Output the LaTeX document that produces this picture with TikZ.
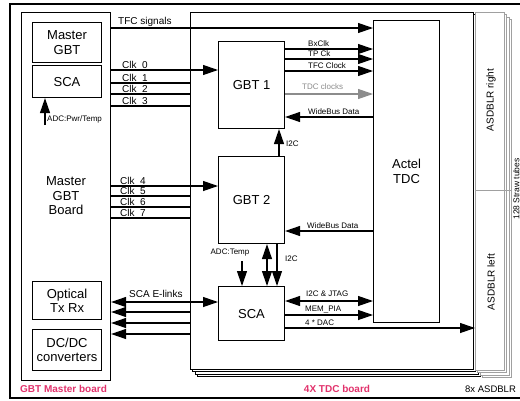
\documentclass[tikz,border=0pt]{standalone}
\usepackage{fontspec}
\setmainfont{Liberation Sans}
\usetikzlibrary{arrows.meta}
\definecolor{pinkl}{RGB}{226,50,108}
\definecolor{asdgray}{RGB}{160,160,160}
\definecolor{clkgray}{RGB}{140,140,140}
\begin{document}
\begin{tikzpicture}[x=1pt,y=-1pt,
  box/.style={draw, line width=1.1pt, fill=white, align=center, inner sep=0pt,
    font=\fontsize{13}{14.5}\selectfont},
  tip/.tip={Triangle[length=15pt,width=10pt]},
  arr/.style={line width=1.2pt, -tip},
  larr/.style={line width=1.2pt, tip-},
  darr/.style={line width=1.2pt, tip-tip},
  ln/.style={line width=1.2pt},
  smlbl/.style={font=\fontsize{8}{9}\selectfont, inner sep=0pt, anchor=base west},
  biglbl/.style={font=\fontsize{10}{11}\selectfont, inner sep=0pt, anchor=base west},
  boardlbl/.style={font=\bfseries\fontsize{10}{11}\selectfont, text=pinkl, inner sep=0pt},
  rotlbl/.style={rotate=90, font=\fontsize{10}{11}\selectfont, inner sep=0pt}
]
\useasboundingbox (0,0) rectangle (520,400);
\fill[white] (0,0) rectangle (520,400);
\draw[line width=1.4pt] (10,4) rectangle (545,398);

% TDC board copies (behind)
\foreach \k in {3,2,1} {
  \draw[line width=1pt, fill=white] ({190+2.5*\k},{12+2.5*\k}) rectangle ({473+2.5*\k},{369+2.5*\k});
}
% ASDBLR copies
\foreach \k in {3,2,1} {
  \draw[asdgray, line width=0.8pt, fill=white] ({475+2.5*\k},{12+2.5*\k}) rectangle ({504+2.5*\k},{370+2.5*\k});
}
\node[draw=asdgray, line width=0.8pt, fill=white, minimum width=29pt, minimum height=358pt,
  anchor=north west, inner sep=0pt] (asd) at (475,12) {};
\draw[asdgray, line width=0.8pt] (asd.west |- 0,190) -- (512,190);
\node[rotlbl] (asdr) at (491,100) {ASDBLR right};
\node[rotlbl] (asdlft) at (491,282) {ASDBLR left};
\node[rotlbl, anchor=base, font=\fontsize{8.5}{10}\selectfont] (straw) at (519.3,189) {128 Straw tubes};

% TDC front board
\node[draw, line width=1.1pt, fill=white, minimum width=283pt, minimum height=357pt,
  anchor=north west, inner sep=0pt] (tdcb) at (190,12) {};

% Master board
\node[box, minimum width=89pt, minimum height=368pt, anchor=north west] (mboard) at (21,12) {};
\node[box, minimum width=69pt, minimum height=40pt, anchor=north west] (mgbt) at (32,22) {Master\\GBT};
\node[box, minimum width=69pt, minimum height=32pt, anchor=north west] (msca) at (32,65) {SCA};
\node[align=center, inner sep=0pt, font=\fontsize{13}{14.5}\selectfont] (mtxt) at (66,196) {Master\\GBT\\Board};
\node[box, minimum width=69pt, minimum height=38pt, anchor=north west] (opt) at (32,281) {Optical\\Tx Rx};
\node[box, minimum width=69pt, minimum height=41pt, anchor=north west] (dcdc) at (32,329) {DC/DC\\converters};
\coordinate (adcp) at (45,125);
\draw[arr] (adcp) -- (msca.south -| adcp);
\node[smlbl, anchor=west] (adcpl) at (47,119) {ADC:Pwr/Temp};

% TDC board boxes
\node[box, minimum width=66pt, minimum height=87pt, anchor=north west] (gbt1) at (218,41) {GBT 1};
\node[box, minimum width=66pt, minimum height=87pt, anchor=north west] (gbt2) at (218,156) {GBT 2};
\node[box, minimum width=66pt, minimum height=54pt, anchor=north west] (tsca) at (218,286) {SCA};
\node[box, minimum width=66pt, minimum height=302pt, anchor=north west] (actel) at (373,20) {Actel\\TDC};

% TFC signals
\draw[arr] (mboard.east |- 0,28) -- (actel.west |- 0,28);
\node[biglbl] (tfcl) at (118,24) {TFC signals};

% Clocks 0-3
\draw[arr] (mboard.east |- 0,70) -- (gbt1.west |- 0,70);
\draw[ln] (mboard.east |- 0,83) -- (tdcb.west |- 0,83);
\draw[ln] (mboard.east |- 0,94) -- (tdcb.west |- 0,94);
\draw[ln] (mboard.east |- 0,106) -- (tdcb.west |- 0,106);
\node[biglbl] (c0) at (122,68) {Clk\_0};
\node[biglbl] (c1) at (122,81) {Clk\_1};
\node[biglbl] (c2) at (122,92) {Clk\_2};
\node[biglbl] (c3) at (122,104) {Clk\_3};

% Clocks 4-7
\draw[arr] (mboard.east |- 0,186) -- (gbt2.west |- 0,186);
\draw[ln] (mboard.east |- 0,196) -- (tdcb.west |- 0,196);
\draw[ln] (mboard.east |- 0,207) -- (tdcb.west |- 0,207);
\draw[ln] (mboard.east |- 0,218) -- (tdcb.west |- 0,218);
\node[biglbl] (c4) at (120,184) {Clk\_4};
\node[biglbl] (c5) at (120,194) {Clk\_5};
\node[biglbl] (c6) at (120,205) {Clk\_6};
\node[biglbl] (c7) at (120,216) {Clk\_7};

% GBT1 outputs
\draw[arr] (gbt1.east |- 0,49) -- (actel.west |- 0,49);
\draw[arr] (gbt1.east |- 0,59) -- (actel.west |- 0,59);
\draw[arr] (gbt1.east |- 0,71) -- (actel.west |- 0,71);
\draw[arr, clkgray] (gbt1.east |- 0,94) -- (actel.west |- 0,94);
\draw[arr] (actel.west |- 0,117) -- (gbt1.east |- 0,117);
\node[smlbl] (bx) at (308,46) {BxClk};
\node[smlbl] (tp) at (308,56.5) {TP Ck};
\node[smlbl] (tfcc) at (308,68.5) {TFC Clock};
\node[smlbl, text=clkgray] (tdcc) at (302,89) {TDC clocks};
\node[smlbl] (wb1) at (308,114) {WideBus Data};

% GBT2 <-> GBT1
\draw[arr] (gbt2.north -| 279,0) -- (gbt1.south -| 279,0);
\node[smlbl, anchor=west] (i2c1) at (286,144) {I2C};
\draw[arr] (actel.west |- 0,231) -- (gbt2.east |- 0,231);
\node[smlbl] (wb2) at (307,228) {WideBus Data};

% GBT2 <-> SCA
\node[smlbl, anchor=center] (adct) at (230,253) {ADC:Temp};
\coordinate (adcs) at (242,261);
\draw[arr] (adcs) -- (tsca.north -| adcs);
\draw[darr] (gbt2.south -| 267,0) -- (tsca.north -| 267,0);
\draw[arr] (gbt2.south -| 277,0) -- (tsca.north -| 277,0);
\node[smlbl, anchor=west] (i2c2) at (285,259) {I2C};

% SCA E-links
\draw[darr] (mboard.east |- 0,302) -- (tsca.west |- 0,302);
\draw[larr] (mboard.east |- 0,312) -- (tdcb.west |- 0,312);
\draw[larr] (mboard.east |- 0,323) -- (tdcb.west |- 0,323);
\draw[larr] (mboard.east |- 0,334) -- (tdcb.west |- 0,334);
\node[biglbl] (el) at (129,297) {SCA E-links};

% SCA outputs
\draw[darr] (tsca.east |- 0,301) -- (actel.west |- 0,301);
\draw[arr] (tsca.east |- 0,315) -- (actel.west |- 0,315);
\draw[arr] (tsca.east |- 0,328) -- (asd.west |- 0,328);
\node[smlbl] (jtag) at (306,296) {I2C \& JTAG};
\node[smlbl] (mem) at (305,311) {MEM\_PIA};
\node[smlbl] (dac) at (305,325) {4 * DAC};

% board labels
\node[boardlbl, anchor=base west] (gbtml) at (20,392) {GBT Master board};
\node[boardlbl, anchor=base] (tdcl) at (337,392) {4X TDC board};
\node[biglbl, font=\fontsize{9.5}{11}\selectfont] (asdl) at (465,392) {8x ASDBLR};
\end{tikzpicture}
\end{document}
